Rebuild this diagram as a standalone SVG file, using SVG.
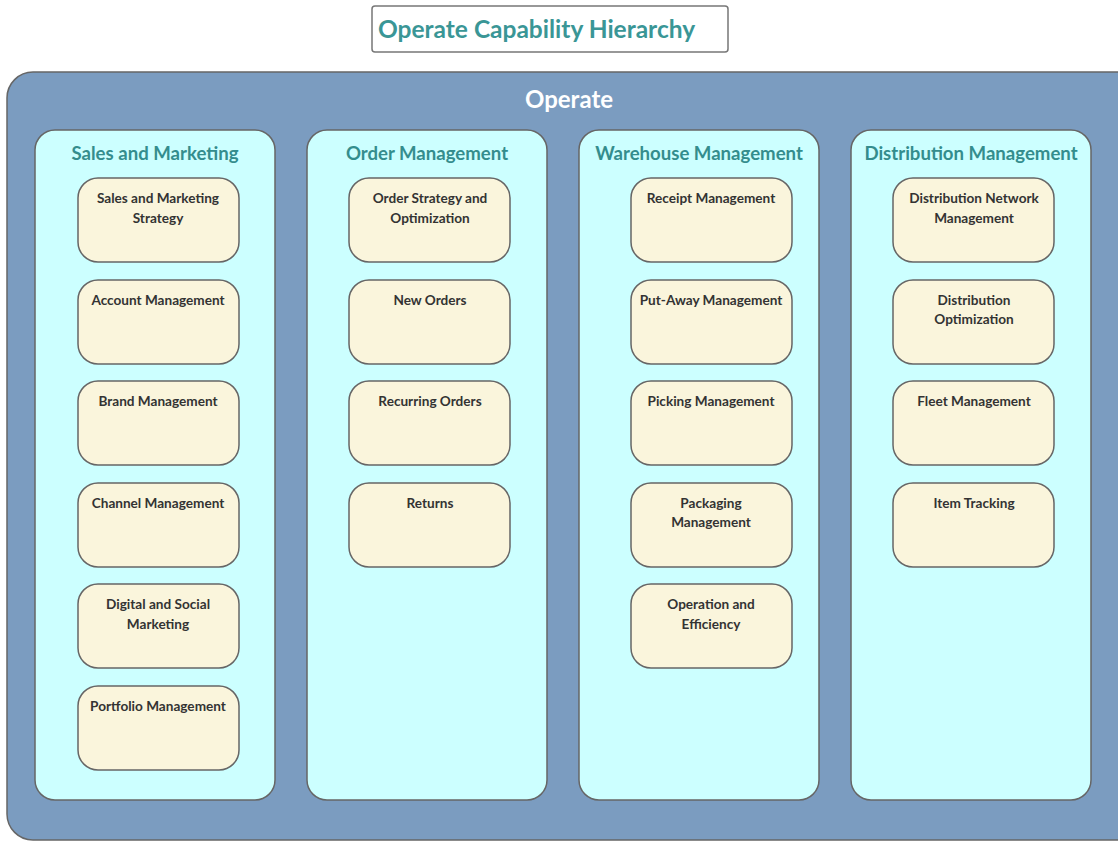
<svg xmlns="http://www.w3.org/2000/svg" width="1118" height="842" viewBox="0 0 1118 842">
<style>
.title{font-family:Lato,"Open Sans",sans-serif;font-weight:bold;font-size:24.5px;fill:#3a9696}
.outer{fill:#7b9cc0;stroke:#666;stroke-width:1.5}
.outerlbl{font-family:Lato,"Open Sans",sans-serif;font-weight:bold;font-size:24px;fill:#ffffff}
.col{fill:#ccffff;stroke:#666;stroke-width:1.5}
.collbl{font-family:Lato,"Open Sans",sans-serif;font-weight:bold;font-size:18.6px;fill:#348d8d}
.box{fill:#faf5dc;stroke:#666;stroke-width:1.5}
.boxlbl{font-family:Lato,"Open Sans",sans-serif;font-weight:bold;font-size:13.6px;fill:#333333}
</style>
<rect width="1118" height="842" fill="#ffffff"/>
<g id="title">
<rect x="372" y="6" width="356" height="46" rx="3" fill="#ffffff" stroke="#777" stroke-width="1.5"/>
<text class="title" x="378" y="38">Operate Capability Hierarchy</text>
</g>
<g id="operate">
<rect class="outer" x="7" y="72" width="1140" height="768" rx="26"/>
<text class="outerlbl" x="569" y="108" text-anchor="middle">Operate</text>
</g>
<g id="sales-and-marketing">
<rect class="col" x="35" y="130" width="240" height="670" rx="20"/>
<text class="collbl" x="155" y="160" text-anchor="middle">Sales and Marketing</text>
</g>
<g id="order-management">
<rect class="col" x="307" y="130" width="240" height="670" rx="20"/>
<text class="collbl" x="427" y="160" text-anchor="middle">Order Management</text>
</g>
<g id="warehouse-management">
<rect class="col" x="579" y="130" width="240" height="670" rx="20"/>
<text class="collbl" x="699" y="160" text-anchor="middle">Warehouse Management</text>
</g>
<g id="distribution-management">
<rect class="col" x="851" y="130" width="240" height="670" rx="20"/>
<text class="collbl" x="971" y="160" text-anchor="middle">Distribution Management</text>
</g>

<g id="sm1"><rect class="box" x="78" y="178" width="161" height="84" rx="20"/><text class="boxlbl" x="158" y="203" text-anchor="middle">Sales and Marketing</text><text class="boxlbl" x="158" y="223" text-anchor="middle">Strategy</text></g>
<g id="sm2"><rect class="box" x="78" y="280" width="161" height="84" rx="20"/><text class="boxlbl" x="158" y="305" text-anchor="middle">Account Management</text></g>
<g id="sm3"><rect class="box" x="78" y="381" width="161" height="84" rx="20"/><text class="boxlbl" x="158" y="406" text-anchor="middle">Brand Management</text></g>
<g id="sm4"><rect class="box" x="78" y="483" width="161" height="84" rx="20"/><text class="boxlbl" x="158" y="508" text-anchor="middle">Channel Management</text></g>
<g id="sm5"><rect class="box" x="78" y="584" width="161" height="84" rx="20"/><text class="boxlbl" x="158" y="609" text-anchor="middle">Digital and Social</text><text class="boxlbl" x="158" y="629" text-anchor="middle">Marketing</text></g>
<g id="sm6"><rect class="box" x="78" y="686" width="161" height="84" rx="20"/><text class="boxlbl" x="158" y="711" text-anchor="middle">Portfolio Management</text></g>

<g id="om1"><rect class="box" x="349" y="178" width="161" height="84" rx="20"/><text class="boxlbl" x="430" y="203" text-anchor="middle">Order Strategy and</text><text class="boxlbl" x="430" y="223" text-anchor="middle">Optimization</text></g>
<g id="om2"><rect class="box" x="349" y="280" width="161" height="84" rx="20"/><text class="boxlbl" x="430" y="305" text-anchor="middle">New Orders</text></g>
<g id="om3"><rect class="box" x="349" y="381" width="161" height="84" rx="20"/><text class="boxlbl" x="430" y="406" text-anchor="middle">Recurring Orders</text></g>
<g id="om4"><rect class="box" x="349" y="483" width="161" height="84" rx="20"/><text class="boxlbl" x="430" y="508" text-anchor="middle">Returns</text></g>

<g id="wm1"><rect class="box" x="631" y="178" width="161" height="84" rx="20"/><text class="boxlbl" x="711" y="203" text-anchor="middle">Receipt Management</text></g>
<g id="wm2"><rect class="box" x="631" y="280" width="161" height="84" rx="20"/><text class="boxlbl" x="711" y="305" text-anchor="middle">Put-Away Management</text></g>
<g id="wm3"><rect class="box" x="631" y="381" width="161" height="84" rx="20"/><text class="boxlbl" x="711" y="406" text-anchor="middle">Picking Management</text></g>
<g id="wm4"><rect class="box" x="631" y="483" width="161" height="84" rx="20"/><text class="boxlbl" x="711" y="508" text-anchor="middle">Packaging</text><text class="boxlbl" x="711" y="527" text-anchor="middle">Management</text></g>
<g id="wm5"><rect class="box" x="631" y="584" width="161" height="84" rx="20"/><text class="boxlbl" x="711" y="609" text-anchor="middle">Operation and</text><text class="boxlbl" x="711" y="629" text-anchor="middle">Efficiency</text></g>

<g id="dm1"><rect class="box" x="893" y="178" width="161" height="84" rx="20"/><text class="boxlbl" x="974" y="203" text-anchor="middle">Distribution Network</text><text class="boxlbl" x="974" y="223" text-anchor="middle">Management</text></g>
<g id="dm2"><rect class="box" x="893" y="280" width="161" height="84" rx="20"/><text class="boxlbl" x="974" y="305" text-anchor="middle">Distribution</text><text class="boxlbl" x="974" y="324" text-anchor="middle">Optimization</text></g>
<g id="dm3"><rect class="box" x="893" y="381" width="161" height="84" rx="20"/><text class="boxlbl" x="974" y="406" text-anchor="middle">Fleet Management</text></g>
<g id="dm4"><rect class="box" x="893" y="483" width="161" height="84" rx="20"/><text class="boxlbl" x="974" y="508" text-anchor="middle">Item Tracking</text></g>
<g id="connectors"></g>
</svg>
